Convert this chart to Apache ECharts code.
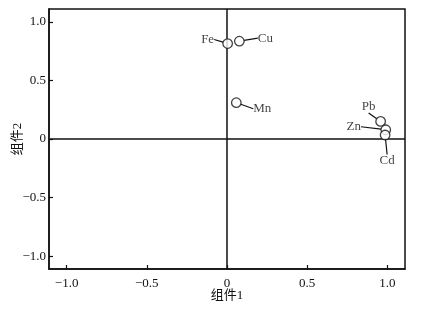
<!DOCTYPE html>
<html><head><meta charset="utf-8">
<script src="https://cdn.jsdelivr.net/npm/echarts@6/dist/echarts.min.js"></script>
<style>html,body{margin:0;padding:0;background:#fff}#c{width:425px;height:309px}</style>
</head><body><div id="c"></div>
<script>
const elements = ['Fe', 'Cu', 'Mn', 'Pb', 'Zn', 'Cd'];
const comp1 = [0.004, 0.077, 0.058, 0.958, 0.99, 0.986];
const comp2 = [0.815, 0.835, 0.31, 0.15, 0.079, 0.034];
const tickValues = [-1, -0.5, 0, 0.5, 1];
const labelShift = [[-20, -4], [26, -3], [26, 6], [-12, -15], [-32, -3], [2, 26]];

const FONT = '"Liberation Serif", "Noto Sans CJK SC", serif';
const fmt = v => v === 0 ? '0' : (v < 0 ? '\u2212' : '') + Math.abs(v).toFixed(1);
const axisCommon = {
  type: 'value', min: -1.11, max: 1.11,
  axisLine: { show: true, onZero: false, lineStyle: { color: '#111', width: 1.5 } },
  axisTick: { show: true, inside: true, length: 4, customValues: tickValues, lineStyle: { color: '#111', width: 1.2 } },
  axisLabel: { customValues: tickValues, formatter: fmt, color: '#111', fontFamily: FONT, fontSize: 13 },
  splitLine: { show: false },
  nameLocation: 'middle',
  nameMoveOverlap: false,
  nameTextStyle: { color: '#111', fontFamily: FONT, fontSize: 13 }
};
const chart = echarts.init(document.getElementById('c'));
chart.setOption({
  animation: false,
  grid: { left: 49, right: 20, top: 9, bottom: 40, containLabel: false, outerBoundsMode: 'none', show: true, borderColor: '#111', borderWidth: 1.5, backgroundColor: 'transparent' },
  xAxis: Object.assign({}, axisCommon, { name: '组件1', nameGap: 20, axisLabel: Object.assign({}, axisCommon.axisLabel, { margin: 8 }) }),
  yAxis: Object.assign({}, axisCommon, { name: '组件2', nameGap: 25, axisLabel: Object.assign({}, axisCommon.axisLabel, { margin: 3 }) }),
  series: [{
    type: 'scatter',
    data: elements.map((n, i) => ({ name: n, value: [comp1[i], comp2[i]] })),
    symbol: 'circle', symbolSize: 9.5,
    itemStyle: { color: '#fff', borderColor: '#111', borderWidth: 1.3 },
    label: { show: true, formatter: p => p.name, position: 'inside', color: '#111', fontFamily: FONT, fontSize: 13 },
    labelLine: { show: true, lineStyle: { color: '#111', width: 1.2 } },
    labelLayout: p => ({ dx: labelShift[p.dataIndex][0], dy: labelShift[p.dataIndex][1] }),
    markLine: {
      silent: true, symbol: 'none', label: { show: false },
      lineStyle: { color: '#111', width: 1.5, type: 'solid' },
      data: [{ xAxis: 0 }, { yAxis: 0 }]
    },
    z: 5
  }]
});
</script></body></html>
